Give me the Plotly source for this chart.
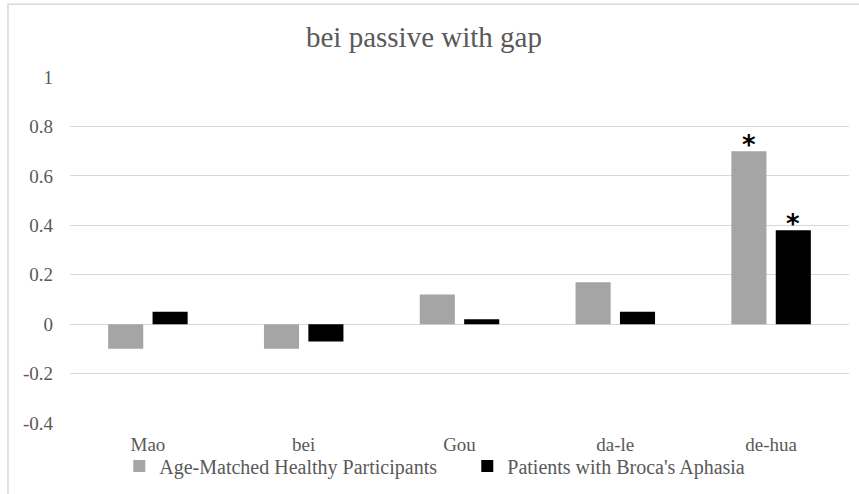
import plotly.graph_objects as go

# Word positions in the sentence and mean scores for each group
categories = ["Mao", "bei", "Gou", "da-le", "de-hua"]
healthy = [-0.10, -0.10, 0.12, 0.17, 0.70]
brocas = [0.05, -0.07, 0.02, 0.05, 0.38]
healthy_marks = ["", "", "", "", "*"]
brocas_marks = ["", "", "", "", "*"]
y_ticks = [-0.4, -0.2, 0, 0.2, 0.4, 0.6, 0.8, 1]
y_tick_labels = ["-0.4", "-0.2", "0", "0.2", "0.4", "0.6", "0.8", "1"]

SERIF = "Liberation Serif"
MARK_FONT = "DejaVu Sans"
TEXT_GREY = "#595959"
GRID = "#D9D9D9"
FIG_W, FIG_H = 859, 494

fig = go.Figure()
fig.add_trace(go.Bar(
    x=categories, y=healthy, name="Age-Matched Healthy Participants",
    marker=dict(color="#A5A5A5", line=dict(width=0)),
))
fig.add_trace(go.Bar(
    x=categories, y=brocas, name="Patients with Broca's Aphasia",
    marker=dict(color="#000000", line=dict(width=0)),
))

# Significance asterisks above the flagged bars
annotations = []
for marks, values, shift in ((healthy_marks, healthy, -22), (brocas_marks, brocas, 22)):
    for cat, val, mark in zip(categories, values, marks):
        if mark:
            annotations.append(dict(x=cat, y=val, text="<b>" + mark + "</b>", showarrow=False,
                                    xshift=shift, yshift=-11, yanchor="bottom",
                                    font=dict(family=MARK_FONT, size=26, color="#000000")))

fig.update_layout(
    width=FIG_W, height=FIG_H,
    margin=dict(l=70, r=10, t=77, b=70),
    paper_bgcolor="white", plot_bgcolor="white",
    barmode="group", bargap=0.43, bargroupgap=0.21,
    title=dict(text="bei passive with gap", x=424 / FIG_W, xref="container", xanchor="center",
               y=1 - 37 / FIG_H, yref="container", yanchor="middle",
               font=dict(family=SERIF, size=29, color=TEXT_GREY)),
    font=dict(family=SERIF, color=TEXT_GREY),
    xaxis=dict(showgrid=False, showline=False, ticks="", zeroline=False,
               tickfont=dict(family=SERIF, size=19, color=TEXT_GREY),
               ticklabelstandoff=8),
    yaxis=dict(range=[-0.4, 1], tickvals=y_ticks, ticktext=y_tick_labels,
               showgrid=True, gridcolor=GRID, gridwidth=1,
               zeroline=True, zerolinecolor=GRID, zerolinewidth=1,
               showline=False, ticks="",
               tickfont=dict(family=SERIF, size=19, color=TEXT_GREY),
               ticklabelstandoff=16),
    legend=dict(orientation="h", x=0.510, xanchor="center", y=-0.121, yanchor="middle",
                entrywidth=303, entrywidthmode="pixels",
                font=dict(family=SERIF, size=20, color=TEXT_GREY),
                bgcolor="rgba(0,0,0,0)", traceorder="normal"),
    annotations=annotations,
    shapes=[dict(type="rect", xref="paper", yref="paper",
                 x0=-0.0796, x1=1.05, y0=-0.3, y1=1.2104,
                 line=dict(color=GRID, width=1.5), fillcolor="rgba(0,0,0,0)",
                 layer="below")],
)

fig.write_html("out.html")
